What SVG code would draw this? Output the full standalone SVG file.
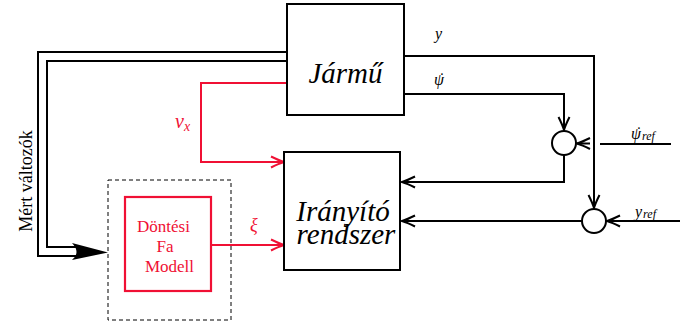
<svg xmlns="http://www.w3.org/2000/svg" width="680" height="326" viewBox="0 0 680 326">
<style>
.box{fill:#fff;stroke:#000;stroke-width:2}
.ln{fill:none;stroke:#000;stroke-width:2}
.rln{fill:none;stroke:#f01034;stroke-width:2}
.big{font-family:"Liberation Serif",serif;font-style:italic;font-size:29px;fill:#000}
.lbl{font-family:"Liberation Serif",serif;font-style:italic;fill:#000}
.red{fill:#f01034}
</style>
<defs>
<marker id="ah" markerUnits="userSpaceOnUse" markerWidth="16" markerHeight="14" refX="14" refY="7" orient="auto" overflow="visible">
<path d="M1,1.5 Q9,5.5 14,7 Q9,8.5 1,12.5" fill="none" stroke="#000" stroke-width="2"/>
</marker>
<marker id="ahr" markerUnits="userSpaceOnUse" markerWidth="16" markerHeight="14" refX="14" refY="7" orient="auto" overflow="visible">
<path d="M1,1.5 Q9,5.5 14,7 Q9,8.5 1,12.5" fill="none" stroke="#f01034" stroke-width="2"/>
</marker>
</defs>
<rect width="680" height="326" fill="#fff"/>

<g id="connectors">
<path class="ln" d="M287,52 H38 V256 H78"/>
<path class="ln" d="M287,61 H47 V247 H78"/>
<path d="M108,252.5 L72,243 Q81,252.5 72,260 Z" fill="#000"/>
<path class="rln" d="M287,83 H201 V162 H284" marker-end="url(#ahr)"/>
<path class="rln" d="M211,245 H284" marker-end="url(#ahr)"/>
<path class="ln" d="M404,56 H594 V208" marker-end="url(#ah)"/>
<path class="ln" d="M404,94 H564 V130" marker-end="url(#ah)"/>
<path class="ln" d="M564,155 V182 H402" marker-end="url(#ah)"/>
<path class="ln" d="M582,221 H402" marker-end="url(#ah)"/>
<path class="ln" d="M600,144 H671"/>
<path class="ln" d="M590,143.5 H577" marker-end="url(#ah)"/>
<path class="ln" d="M680,221 H607" marker-end="url(#ah)"/>
</g>

<g id="jarmu">
<rect class="box" x="287" y="4" width="117" height="111"/>
<text class="big" x="345.5" y="83" text-anchor="middle" font-size="31">Jármű</text>
</g>

<g id="iranyito">
<rect class="box" x="284" y="152" width="116" height="118"/>
<text class="big" x="343" y="221" text-anchor="middle">Irányító</text>
<text class="big" x="346" y="244" text-anchor="middle">rendszer</text>
</g>

<g id="sum1">
<circle class="box" cx="564" cy="143" r="12"/>
</g>
<g id="sum2">
<circle class="box" cx="594" cy="221" r="12"/>
</g>

<g id="dtm">
<rect x="108" y="180" width="123" height="140" fill="none" stroke="#000" stroke-width="1" stroke-dasharray="4,3"/>
<rect x="125" y="197" width="86" height="94" fill="none" stroke="#f01034" stroke-width="2.2"/>
<g font-family="Liberation Serif,serif" font-size="17" class="red" text-anchor="middle">
<text x="163.5" y="232">Döntési</text>
<text x="165" y="252">Fa</text>
<text x="169.5" y="272">Modell</text>
</g>
</g>

<g id="labels">
<text font-family="Liberation Serif,serif" font-size="18" fill="#000" transform="translate(32,181) rotate(-90)" text-anchor="middle">Mért változók</text>
<text class="lbl" x="435" y="39" font-size="16">y</text>
<text class="lbl" x="434" y="85" font-size="16">ψ</text>
<text class="lbl" x="441" y="84" font-size="16" text-anchor="middle">˙</text>
<text class="lbl" x="631" y="139" font-size="16">ψ<tspan font-size="12" dx="1" dy="1">ref</tspan></text>
<text class="lbl" x="638" y="138" font-size="16" text-anchor="middle">˙</text>
<text class="lbl" x="635" y="217" font-size="16">y<tspan font-size="12" dx="1" dy="1">ref</tspan></text>
<text class="lbl red" x="175" y="128" font-size="20">v<tspan font-size="14" dy="3">x</tspan></text>
<text class="lbl red" x="250" y="231" font-size="18">ξ</text>
</g>
</svg>
